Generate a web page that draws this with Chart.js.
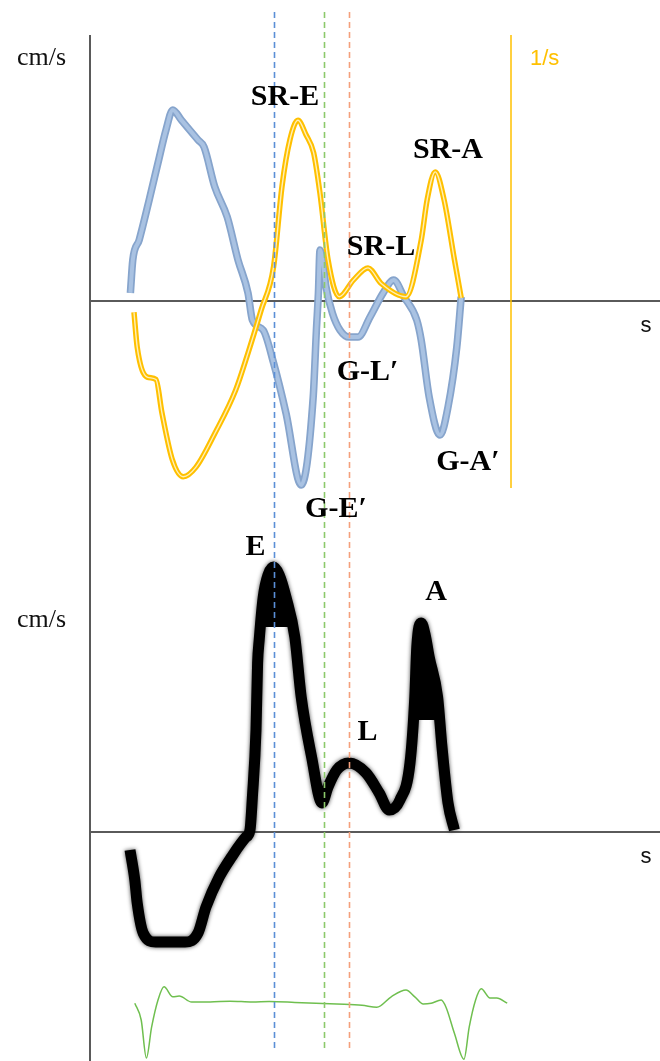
<!DOCTYPE html>
<html>
<head>
<meta charset="utf-8">
<script src="https://cdn.jsdelivr.net/npm/chart.js@4.4.1/dist/chart.umd.min.js"></script>
<style>
  html, body { margin: 0; padding: 0; background: #fff; }
  #wrap { width: 660px; height: 1061px; }
</style>
</head>
<body>
<div id="wrap"><canvas id="myChartCiclo" width="660" height="1061"></canvas></div>
<script>
// Velocidad tisular (cm/s) - curva azul
const velTime = [0.101, 0.107, 0.123, 0.148, 0.170, 0.190, 0.207, 0.228, 0.270, 0.285, 0.312, 0.343, 0.370, 0.395,
  0.406, 0.433, 0.459, 0.490, 0.528, 0.558, 0.566, 0.571, 0.575, 0.583, 0.590, 0.606, 0.625, 0.648, 0.670,
  0.700, 0.733, 0.759, 0.785, 0.817, 0.828, 0.848, 0.875, 0.895, 0.917, 0.928];
const velValue = [0.43, 2.08, 3.08, 5.08, 6.93, 8.58, 9.58, 9.08, 8.08, 7.73, 5.73, 4.23, 2.08, 0.43,
  -0.93, -1.43, -3.08, -5.58, -9.18, -4.78, -1.43, 0.43, 2.58, 1.83, 0.73, -0.58, -1.43, -1.78, -1.78,
  -0.78, 0.43, 1.08, 0.23, -0.93, -1.93, -4.78, -6.68, -5.28, -2.28, 0.23];

// Strain rate (1/s) - curva amarilla
const srTime = [0.110, 0.118, 0.143, 0.165, 0.180, 0.206, 0.233, 0.265, 0.312, 0.364, 0.395, 0.428, 0.459,
  0.480, 0.500, 0.520, 0.540, 0.559, 0.575, 0.595, 0.623, 0.659, 0.695, 0.728, 0.790, 0.828, 0.843, 0.863,
  0.885, 0.911, 0.928];
const srValue = [-0.09, -0.38, -0.63, -0.65, -0.93, -1.32, -1.46, -1.38, -1.10, -0.74, -0.43, -0.07, 0.29,
  0.96, 1.35, 1.51, 1.39, 1.24, 0.90, 0.35, 0.04, 0.18, 0.28, 0.15, 0.04, 0.51, 0.85, 1.08,
  0.85, 0.35, 0.03];

// Flujo Doppler (cm/s) - curva negra
const flujoTime = [0.100, 0.112, 0.118, 0.133, 0.164, 0.238, 0.270, 0.290, 0.323, 0.354, 0.390, 0.400, 0.406,
  0.415, 0.419, 0.423, 0.433, 0.445, 0.459, 0.473, 0.490, 0.512, 0.528, 0.554, 0.580, 0.595, 0.617, 0.648,
  0.690, 0.723, 0.748, 0.775, 0.800, 0.812, 0.817, 0.828, 0.838, 0.848, 0.869, 0.880, 0.895, 0.911];
const flujoValue = [-6, -16, -23.7, -33.7, -36.7, -36.7, -33.7, -25, -15, -8.3, -1.7, 0.7, 11.7,
  34, 56.3, 64, 78.3, 85.7, 88.3, 85.7, 78.3, 65, 45, 25, 9.7, 15, 20.7, 23,
  19.7, 13, 7.3, 10.7, 23, 45, 61.7, 69.7, 65.7, 58.3, 45, 28.3, 9.7, 0.7];

// ECG (mV) - curva verde
const ecgTime = [0.112, 0.128, 0.141, 0.154, 0.170, 0.185, 0.207, 0.223, 0.254, 0.300, 0.350, 0.406, 0.448,
  0.512, 0.617, 0.680, 0.717, 0.753, 0.790, 0.812, 0.833, 0.853, 0.878, 0.890, 0.911, 0.935, 0.948,
  0.964, 0.978, 1.000, 1.017, 1.043];
const ecgValue = [-0.03, -0.45, -1.40, -0.63, 0.05, 0.38, 0.13, 0.15, 0, 0, 0.02, 0, 0.01,
  -0.01, -0.05, -0.08, -0.13, 0.13, 0.30, 0.13, -0.05, -0.03, 0.05, -0.13, -0.78, -1.43, -0.63,
  0.05, 0.33, 0.10, 0.10, -0.03];

// Marcas verticales (s)
const marcaTime = [0.460, 0.586, 0.648];
const marcaColor = ['#5b8fd6', '#8cc96b', '#f4a07c'];
const srEjeTime = 1.0525;

// Etiquetas
const etiquetaTexto = ['SR-E', 'SR-A', 'SR-L', 'G-L\u2032', 'G-A\u2032', 'G-E\u2032', 'E', 'A', 'L'];
const etiquetaTime = [0.4875, 0.895, 0.7275, 0.694, 0.945, 0.615, 0.414, 0.865, 0.694];
const etiquetaValor = [1.64, 1.20, 0.39, -3.93, -8.43, -10.78, 92.3, 77.3, 30.7];
const etiquetaEje = ['ySR', 'ySR', 'ySR', 'yVel', 'yVel', 'yVel', 'yFlujo', 'yFlujo', 'yFlujo'];

const H = 1061;
const puntos = (ts, vs) => ts.map((t, i) => ({ x: t, y: vs[i] }));
// rango del eje a partir de la posicion del cero y la escala (px por unidad)
const rango = (ceroPx, pxUnidad) => ({ min: -(H - ceroPx) / pxUnidad, max: ceroPx / pxUnidad });

// tramo de la curva por encima de un nivel (para rellenar los picos E y A)
function capa(ts, vs, t0, t1, nivel) {
  const out = [];
  for (let i = 1; i < ts.length; i++) {
    if (ts[i] < t0 || ts[i - 1] > t1) continue;
    const a = vs[i - 1] - nivel, b = vs[i] - nivel;
    if ((a < 0) !== (b < 0)) {
      const f = a / (a - b);
      out.push({ x: ts[i - 1] + f * (ts[i] - ts[i - 1]), y: nivel });
    }
    if (b >= 0) out.push({ x: ts[i], y: vs[i] });
  }
  return out;
}

const guiasPlugin = {
  id: 'guias',
  beforeDatasetsDraw(chart) {
    const { ctx, chartArea, scales } = chart;
    ctx.save();
    ctx.strokeStyle = '#5a5a5a';
    ctx.lineWidth = 2;
    ctx.beginPath();
    ctx.moveTo(chartArea.left, 35);
    ctx.lineTo(chartArea.left, chartArea.bottom);
    ['yVel', 'yFlujo'].forEach(id => {
      const y0 = Math.round(scales[id].getPixelForValue(0));
      ctx.moveTo(chartArea.left, y0);
      ctx.lineTo(chartArea.right, y0);
    });
    ctx.stroke();
    // eje del strain rate
    const xs = scales.x.getPixelForValue(srEjeTime);
    ctx.strokeStyle = '#ffc000';
    ctx.lineWidth = 1.5;
    ctx.beginPath();
    ctx.moveTo(xs, 35);
    ctx.lineTo(xs, 488);
    ctx.stroke();

    // titulos de ejes
    ctx.fillStyle = '#111';
    ctx.font = "26px 'Liberation Serif', serif";
    ctx.textAlign = 'left';
    ctx.textBaseline = 'alphabetic';
    ctx.fillText('cm/s', 17, 65);
    ctx.fillText('cm/s', 17, 627);
    ctx.font = "22px 'Liberation Sans', sans-serif";
    ctx.textAlign = 'center';
    ['yVel', 'yFlujo'].forEach(id => {
      ctx.fillText('s', 646, scales[id].getPixelForValue(0) + 30.5);
    });
    ctx.fillStyle = '#ffc000';
    ctx.textAlign = 'left';
    ctx.fillText('1/s', xs + 19, 65);
    ctx.restore();
  },
  beforeDatasetDraw(chart, args) {
    if (args.meta.yAxisID === 'yFlujo') {
      chart.ctx.save();
      chart.ctx.shadowColor = 'rgba(0,0,0,0.7)';
      chart.ctx.shadowBlur = 4;
    }
  },
  afterDatasetDraw(chart, args) {
    if (args.meta.yAxisID === 'yFlujo') chart.ctx.restore();
  },
  afterDatasetsDraw(chart) {
    const { ctx, scales } = chart;
    ctx.save();
    ctx.lineWidth = 1.6;
    ctx.setLineDash([6, 4]);
    marcaTime.forEach((t, i) => {
      const x = Math.round(scales.x.getPixelForValue(t)) + 0.5;
      ctx.strokeStyle = marcaColor[i];
      ctx.beginPath();
      ctx.moveTo(x, 12);
      ctx.lineTo(x, 1050);
      ctx.stroke();
    });
    ctx.setLineDash([]);
    ctx.fillStyle = '#000';
    ctx.font = "bold 30px 'Liberation Serif', serif";
    ctx.textAlign = 'center';
    ctx.textBaseline = 'alphabetic';
    etiquetaTexto.forEach((txt, i) => {
      const x = scales.x.getPixelForValue(etiquetaTime[i]);
      const y = scales[etiquetaEje[i]].getPixelForValue(etiquetaValor[i]);
      ctx.fillText(txt, x, y);
    });
    ctx.restore();
  }
};

const linea = { pointRadius: 0, fill: false, cubicInterpolationMode: 'monotone' };

const myChartCiclo = new Chart(document.getElementById('myChartCiclo').getContext('2d'), {
  type: 'line',
  data: {
    datasets: [
      { ...linea, label: 'SR interior', data: puntos(srTime, srValue), yAxisID: 'ySR', borderColor: '#fff0b8', borderWidth: 1.4, order: 0 },
      { ...linea, label: 'Strain rate', data: puntos(srTime, srValue), yAxisID: 'ySR', borderColor: '#ffc000', borderWidth: 5.5, order: 1 },
      { ...linea, label: 'Vel interior', data: puntos(velTime, velValue), yAxisID: 'yVel', borderColor: '#a9c2e2', borderWidth: 4, order: 2 },
      { ...linea, label: 'Velocidad', data: puntos(velTime, velValue), yAxisID: 'yVel', borderColor: '#86a4cc', borderWidth: 7.5, order: 3 },
      { ...linea, label: 'Flujo', data: puntos(flujoTime, flujoValue), yAxisID: 'yFlujo', borderColor: '#000', borderWidth: 11, order: 4 },
      { ...linea, label: 'Pico E', data: capa(flujoTime, flujoValue, 0.40, 0.55, 68.3), yAxisID: 'yFlujo', borderWidth: 0, backgroundColor: '#000', fill: { value: 68.3 }, order: 5 },
      { ...linea, label: 'Pico A', data: capa(flujoTime, flujoValue, 0.78, 0.90, 37.3), yAxisID: 'yFlujo', borderWidth: 0, backgroundColor: '#000', fill: { value: 37.3 }, order: 6 },
      { ...linea, label: 'ECG', data: puntos(ecgTime, ecgValue), yAxisID: 'yEcg', borderColor: '#6fbf4f', borderWidth: 1.5, order: 7 }
    ]
  },
  options: {
    responsive: false,
    animation: false,
    events: [],
    layout: { padding: { left: 90, right: 0, top: 0, bottom: 0 } },
    plugins: { legend: { display: false }, tooltip: { enabled: false } },
    scales: {
      x: { type: 'linear', min: 0, max: 1.425, display: false },
      yVel: { type: 'linear', display: false, ...rango(301.5, 20) },
      ySR: { type: 'linear', display: false, ...rango(301.5, 120) },
      yFlujo: { type: 'linear', display: false, ...rango(832, 3) },
      yEcg: { type: 'linear', display: false, ...rango(1002, 40) }
    }
  },
  plugins: [guiasPlugin]
});
</script>
</body>
</html>
